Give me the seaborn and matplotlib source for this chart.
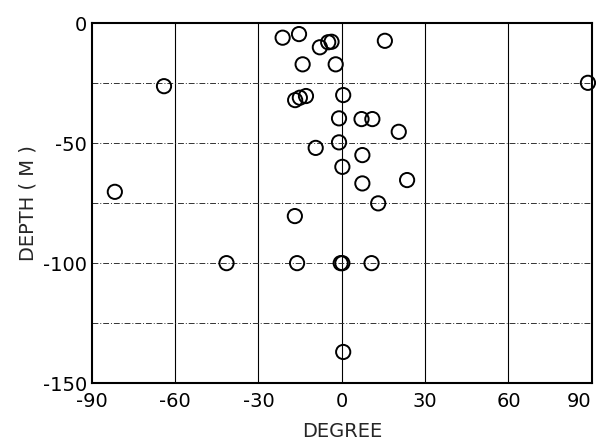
import matplotlib
matplotlib.use("Agg")
import matplotlib.pyplot as plt
import seaborn as sns
import pandas as pd

# degree vs depth
degree = [-21.3, -15.4, -7.9, -4.9, -3.7, -14.1, -2.2, -64.0, -16.8, -15.1,
          -12.9, 0.5, -1.0, -9.4, -1.0, 0.2, -81.7, 15.5, 88.6, 7.1,
          11.0, 20.5, 7.4, 23.5, 7.4, 13.1, -0.4, 0.2, 10.7, 0.5,
          -16.9, -41.5, -16.1]
depth = [-6.1, -4.6, -10.1, -8.0, -7.8, -17.2, -17.2, -26.3, -32.1, -31.1,
         -30.4, -30.0, -39.7, -52.0, -49.7, -59.9, -70.3, -7.4, -24.9, -40.0,
         -40.0, -45.3, -55.0, -65.4, -66.8, -75.1, -100.0, -100.0, -100.0, -137.0,
         -80.4, -100.0, -100.0]

x_ticks = [-90, -60, -30, 0, 30, 60, 90]
y_ticks = [0, -50, -100, -150]
y_minor = [-25, -75, -125]

df = pd.DataFrame({"degree": degree, "depth": depth})

sns.set_style("white")
plt.rcParams["font.family"] = ["DejaVu Sans"]
plt.rcParams["axes.unicode_minus"] = False

fig = plt.figure(figsize=(5.96, 4.43), dpi=100)
ax = fig.add_axes([0.154, 0.135, 0.839, 0.813])

# grid: solid verticals, dash-dot horizontals
for x in x_ticks[1:-1]:
    ax.axvline(x, color="black", lw=0.8, zorder=0)
for y in [-25, -50, -75, -100, -125]:
    ax.axhline(y, color="#333333", lw=0.7, ls=(0, (6, 2, 1, 2)), zorder=0)

sns.scatterplot(data=df, x="degree", y="depth", ax=ax, marker="o", s=105,
                facecolor="none", edgecolor="black", linewidth=1.4,
                clip_on=False, zorder=3)

ax.set_xlim(-90, 90)
ax.set_ylim(-150, 0)
ax.set_xticks(x_ticks)
ax.set_yticks(y_ticks)
ax.set_yticks(y_minor, minor=True)
ax.tick_params(axis="both", which="both", direction="in", length=7, width=1.2,
               labelsize=14, colors="black")
ax.tick_params(axis="x", pad=6)
ax.get_xticklabels()[-1].set_horizontalalignment("right")
for s in ax.spines.values():
    s.set_color("black")
    s.set_linewidth(1.5)

ax.set_xlabel("DEGREE", fontsize=14, labelpad=8)
ax.set_ylabel("DEPTH ( M )", fontsize=14, labelpad=4)

fig.savefig("out.png", dpi=100, facecolor="white")
